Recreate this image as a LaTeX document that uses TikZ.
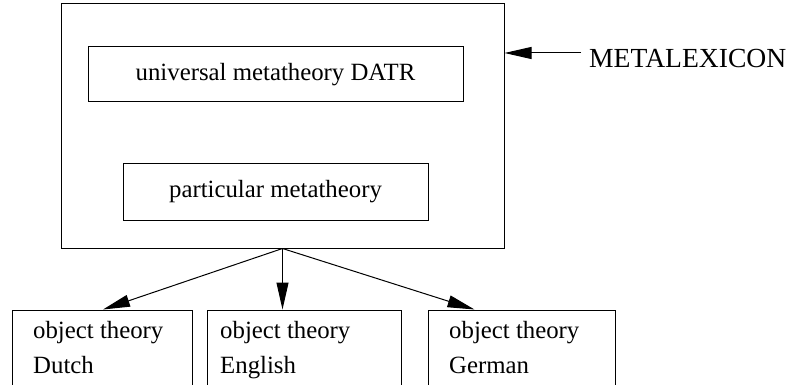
\documentclass[tikz,border=0pt]{standalone}
\usepackage{fontspec}
\setmainfont{Liberation Serif}
\usetikzlibrary{arrows.meta}
\begin{document}
\begin{tikzpicture}[x=1pt,y=-1pt,
  box/.style={draw,line width=1pt,inner sep=0pt},
  lbl/.style={font=\fontsize{24.8}{35}\selectfont,inner sep=0pt},
  biglbl/.style={font=\fontsize{27.6}{33}\selectfont,inner sep=0pt},
  arr/.style={line width=1pt,-{Triangle[length=27pt,width=12pt]}}]
\clip (0,0) rectangle (790,385);
% metalexicon frame with its two theories
\node[box,minimum width=443pt,minimum height=244pt] (meta) at (282.5,126) {};
\node[box,lbl,minimum width=375pt,minimum height=55pt] (univ) at (275.5,74.5) {universal metatheory DATR};
\node[box,lbl,minimum width=305pt,minimum height=56pt] (part) at (275.5,192) {particular metatheory};
% label pointing at the frame
\coordinate (mtail) at (581,53);
\node[biglbl,anchor=base west] (mlabel) at (589,68) {METALEXICON};
\draw[arr] (mtail) -- (meta.east |- mtail);
% object theories
\node[box,minimum width=180pt,minimum height=100pt] (dutch) at (102,360) {};
\node[box,minimum width=194pt,minimum height=100pt] (english) at (304,360) {};
\node[box,minimum width=187pt,minimum height=100pt] (german) at (521.5,360) {};
\node[lbl,align=left,anchor=north west] (dutchtxt) at (33,321) {object theory\\Dutch};
\node[lbl,align=left,anchor=north west] (englishtxt) at (220,321) {object theory\\English};
\node[lbl,align=left,anchor=north west] (germantxt) at (449,321) {object theory\\German};
% connectors
\draw[arr] (meta.south) -- ([xshift=1pt]dutch.north);
\draw[arr] (meta.south) -- (meta.south |- english.north);
\draw[arr] (meta.south) -- ([xshift=47pt]german.north west);
\end{tikzpicture}
\end{document}
